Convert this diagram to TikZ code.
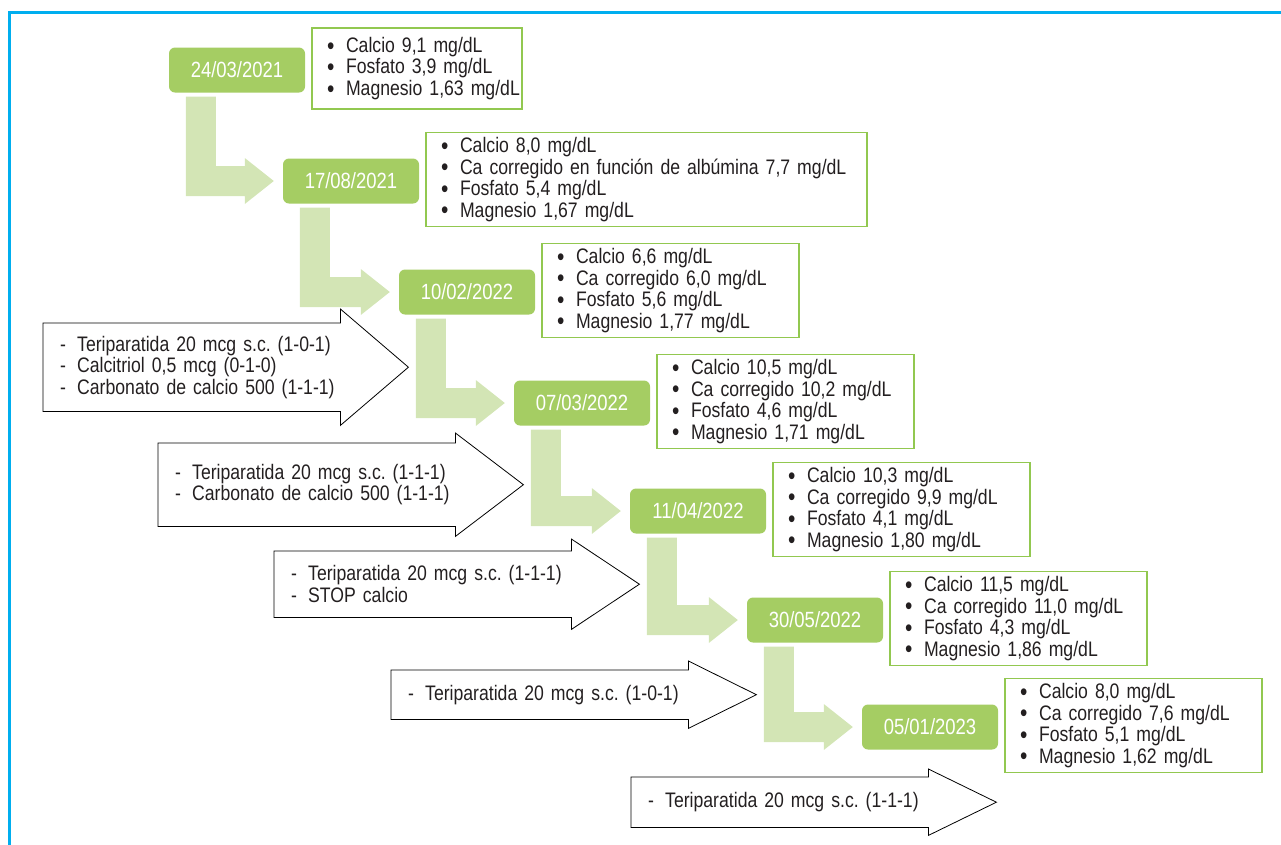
\documentclass[tikz,border=0pt]{standalone}
\usepackage{fontspec}
\setmainfont{Liberation Sans}[FakeStretch=0.84]
\usetikzlibrary{calc}
\definecolor{datefill}{HTML}{A5CD63}
\definecolor{stepfill}{HTML}{D3E5B5}
\definecolor{valline}{HTML}{92C850}
\definecolor{framecol}{HTML}{00AEEF}
\definecolor{txt}{HTML}{231F20}
\tikzset{
  date/.style={fill=datefill, rounded corners=6pt, minimum width=136pt, minimum height=45pt, text=white, inner sep=0pt, font=\fontsize{22}{22}\selectfont},
  vals/.style={draw=valline, line width=1.6pt, anchor=west, align=left, inner xsep=2pt, minimum height=94pt, text=txt},
  treat/.style={anchor=north west, align=left, inner xsep=2pt, inner ysep=0pt, text width=293pt, text=txt},
  tline/.style={draw=black, line width=0.8pt, line join=miter},
  frame/.style={draw=framecol, line width=3pt},
}
\newcommand{\bul}{\hspace*{13pt}\makebox[19pt][l]{\smash{\raisebox{-1.8pt}{\fontsize{25}{0}\selectfont\textbullet}}}}
\newcommand{\dsh}{\hspace*{15pt}\makebox[17pt][l]{-}}
\newcommand{\treatline}[2]{\draw[tline] (#1.north east) -- ++(0,-#2) -- ($(#1.east)+(68,0)$) -- ($(#1.south east)+(0,#2)$) -- (#1.south east) -- (#1.south west) -- (#1.north west) -- cycle;}
\begin{document}
\begin{tikzpicture}[x=1pt,y=-1pt,font=\fontsize{21}{21.5}\selectfont\frenchspacing]
  \useasboundingbox (0,0) rectangle (1281,844);
  \draw[frame] (9.5,870) |- (1300,12.5);

  \node[date] (d1) at (237,70) {24/03/2021};
  \node[date] (d2) at (351,181) {17/08/2021};
  \node[date] (d3) at (467,292) {10/02/2022};
  \node[date] (d4) at (582,403) {07/03/2022};
  \node[date] (d5) at (698,511) {11/04/2022};
  \node[date] (d6) at (815,620) {30/05/2022};
  \node[date] (d7) at (930,727) {05/01/2023};

  \foreach \a/\b in {1/2,2/3,3/4,4/5,5/6,6/7}
    \fill[stepfill] ($(d\a.south west)+(17,4)$) coordinate (s\a) -- ++(30,0)
      |- ($(d\b.west)+(-38,-15)$) -- ++(0,-8) -- ($(d\b.west)+(-9,0)$)
      -- ($(d\b.west)+(-38,23)$) -- ++(0,-8) -| (s\a);

  \node[vals, text width=206pt, minimum height=81pt] (v1) at ($(d1.east)+(6,-1.5)$)
    {\bul Calcio 9,1 mg/dL\\ \bul Fosfato 3,9 mg/dL\\ \bul Magnesio 1,63 mg/dL};
  \node[vals, text width=437pt] (v2) at ($(d2.east)+(6,-1.5)$)
    {\bul Calcio 8,0 mg/dL\\ \bul Ca corregido en función de albúmina 7,7 mg/dL\\ \bul Fosfato 5,4 mg/dL\\ \bul Magnesio 1,67 mg/dL};
  \node[vals, text width=253pt] (v3) at ($(d3.east)+(6,-1.5)$)
    {\bul Calcio 6,6 mg/dL\\ \bul Ca corregido 6,0 mg/dL\\ \bul Fosfato 5,6 mg/dL\\ \bul Magnesio 1,77 mg/dL};
  \node[vals, text width=253pt] (v4) at ($(d4.east)+(6,-1.5)$)
    {\bul Calcio 10,5 mg/dL\\ \bul Ca corregido 10,2 mg/dL\\ \bul Fosfato 4,6 mg/dL\\ \bul Magnesio 1,71 mg/dL};
  \node[vals, text width=253pt] (v5) at ($(d5.east)+(6,-1.5)$)
    {\bul Calcio 10,3 mg/dL\\ \bul Ca corregido 9,9 mg/dL\\ \bul Fosfato 4,1 mg/dL\\ \bul Magnesio 1,80 mg/dL};
  \node[vals, text width=253pt] (v6) at ($(d6.east)+(6,-1.5)$)
    {\bul Calcio 11,5 mg/dL\\ \bul Ca corregido 11,0 mg/dL\\ \bul Fosfato 4,3 mg/dL\\ \bul Magnesio 1,86 mg/dL};
  \node[vals, text width=253pt] (v7) at ($(d7.east)+(6,-1.5)$)
    {\bul Calcio 8,0 mg/dL\\ \bul Ca corregido 7,6 mg/dL\\ \bul Fosfato 5,1 mg/dL\\ \bul Magnesio 1,62 mg/dL};

  \node[treat, minimum height=88pt] (t1) at (43,323)
    {\dsh Teriparatida 20 mcg s.c. (1-0-1)\\ \dsh Calcitriol 0,5 mcg (0-1-0)\\ \dsh Carbonato de calcio 500 (1-1-1)};
  \node[treat, minimum height=83pt] (t2) at (158,443)
    {\dsh Teriparatida 20 mcg s.c. (1-1-1)\\ \dsh Carbonato de calcio 500 (1-1-1)};
  \node[treat, minimum height=66pt] (t3) at (274,551)
    {\dsh Teriparatida 20 mcg s.c. (1-1-1)\\ \dsh STOP calcio};
  \node[treat, minimum height=49pt] (t4) at (391,670)
    {\dsh Teriparatida 20 mcg s.c. (1-0-1)};
  \node[treat, minimum height=50pt] (t5) at (631,777)
    {\dsh Teriparatida 20 mcg s.c. (1-1-1)};
  \treatline{t1}{14}
  \treatline{t2}{10}
  \treatline{t3}{12}
  \treatline{t4}{9}
  \treatline{t5}{8}
\end{tikzpicture}
\end{document}
